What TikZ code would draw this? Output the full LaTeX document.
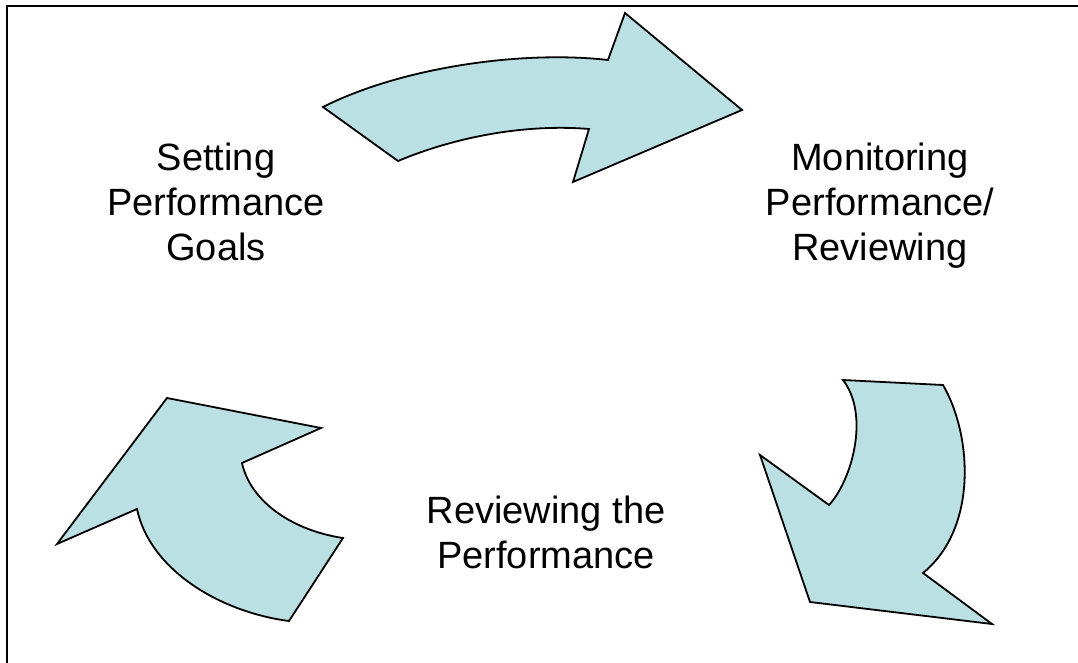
\documentclass[tikz,border=0pt]{standalone}
\usepackage{fontspec}
\setmainfont{Liberation Sans}
\usetikzlibrary{positioning}

\begin{document}
\begin{tikzpicture}[x=1pt, y=-1pt,
        stage/.style={align=center, inner sep=0, anchor=north, font=\fontsize{38}{45}\selectfont},
        bigarrow/.style={draw, line width=1.8pt, fill=arrowfill, line join=miter}]
        \definecolor{arrowfill}{HTML}{BBE0E3}
        \useasboundingbox (0,0) rectangle (1078,663);

        % frame
        \draw[line width=2.5pt] (7,663) -- (7,6) -- (1078,6);

        \node[stage] (goals) at (216,143) {Setting\\Performance\\Goals};
        \node[stage] (monitor) at (880,143) {Monitoring\\Performance/\\Reviewing};
        \node[stage] (review) at (546,496) {Reviewing the\\Performance};

        % top arrow
        \draw[bigarrow] (323,107) -- (398,161)
            .. controls (460,135) and (530,124) .. (589,129)
            -- (573,182) -- (742,110) -- (625,13) -- (608,60)
            .. controls (520,50) and (400,68) .. (323,107) -- cycle;

        % right arrow
        \draw[bigarrow] (843,380) -- (943,385)
            .. controls (972,435) and (978,528) .. (923,573)
            -- (992,624) -- (810,602) -- (760,455) -- (829,505)
            .. controls (852,480) and (870,415) .. (843,380) -- cycle;

        % left arrow
        \draw[bigarrow] (167,398) -- (321,428) -- (242,463)
            .. controls (250,500) and (290,530) .. (343,538)
            -- (289,621)
            .. controls (220,612) and (150,570) .. (137,509)
            -- (57,544) -- cycle;
\end{tikzpicture}
\end{document}
